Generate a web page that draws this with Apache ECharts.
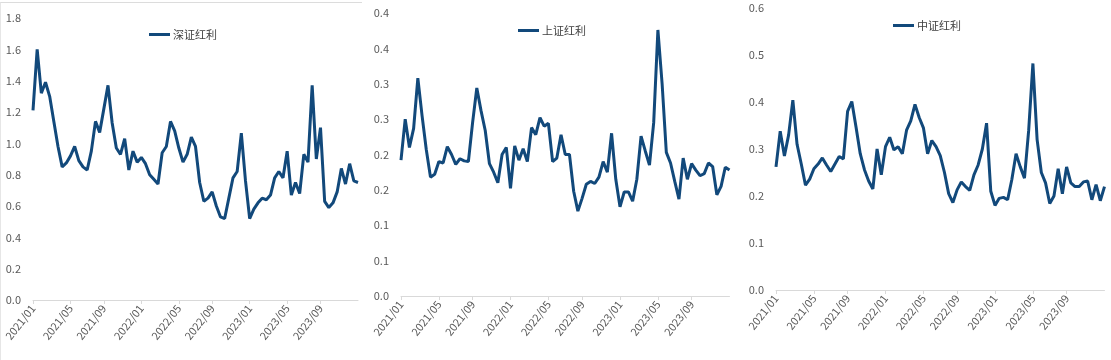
<!DOCTYPE html>
<html>
<head>
<meta charset="utf-8">
<script src="https://cdn.jsdelivr.net/npm/echarts@6/dist/echarts.min.js"></script>
<style>
html,body{margin:0;padding:0;background:#fff;}
#chart{width:1111px;height:360px;}
</style>
</head>
<body>
<div id="chart"></div>
<script>
const dates = ['2021-01-01','2021-01-15','2021-01-29','2021-02-12','2021-02-26','2021-03-12','2021-03-26','2021-04-09','2021-04-23','2021-05-07','2021-05-21','2021-06-04','2021-06-18','2021-07-02','2021-07-16','2021-07-30','2021-08-13','2021-08-27','2021-09-10','2021-09-24','2021-10-08','2021-10-22','2021-11-05','2021-11-19','2021-12-03','2021-12-17','2021-12-31','2022-01-14','2022-01-28','2022-02-11','2022-02-25','2022-03-11','2022-03-25','2022-04-08','2022-04-22','2022-05-06','2022-05-20','2022-06-03','2022-06-17','2022-07-01','2022-07-15','2022-07-29','2022-08-12','2022-08-26','2022-09-09','2022-09-23','2022-10-07','2022-10-21','2022-11-04','2022-11-18','2022-12-02','2022-12-16','2022-12-30','2023-01-13','2023-01-27','2023-02-10','2023-02-24','2023-03-10','2023-03-24','2023-04-07','2023-04-21','2023-05-05','2023-05-19','2023-06-02','2023-06-16','2023-06-30','2023-07-14','2023-07-28','2023-08-11','2023-08-25','2023-09-08','2023-09-22','2023-10-06','2023-10-20','2023-11-03','2023-11-17','2023-12-01','2023-12-15','2023-12-29'];

const szhl = [1.21,1.60,1.32,1.39,1.30,1.14,0.98,0.85,0.875,0.92,0.98,0.89,0.85,0.83,0.95,1.14,1.07,1.22,1.37,1.13,0.97,0.93,1.03,0.83,0.95,0.88,0.91,0.87,0.80,0.77,0.74,0.94,0.98,1.14,1.08,0.97,0.88,0.93,1.04,0.98,0.75,0.63,0.65,0.69,0.60,0.53,0.52,0.65,0.78,0.82,1.065,0.76,0.52,0.58,0.62,0.65,0.64,0.67,0.78,0.82,0.78,0.95,0.67,0.75,0.68,0.93,0.88,1.37,0.90,1.10,0.63,0.59,0.62,0.69,0.84,0.74,0.87,0.76,0.75];

const shhl = [0.192,0.250,0.210,0.237,0.308,0.255,0.207,0.168,0.172,0.190,0.188,0.211,0.200,0.186,0.194,0.191,0.190,0.245,0.294,0.262,0.234,0.187,0.175,0.160,0.200,0.210,0.152,0.212,0.192,0.208,0.190,0.238,0.228,0.252,0.240,0.244,0.190,0.195,0.228,0.200,0.200,0.148,0.120,0.138,0.158,0.162,0.159,0.168,0.190,0.175,0.230,0.165,0.126,0.147,0.147,0.134,0.165,0.226,0.205,0.185,0.245,0.376,0.300,0.203,0.188,0.162,0.137,0.195,0.165,0.187,0.178,0.170,0.173,0.188,0.183,0.143,0.155,0.182,0.178];

const zzhl = [0.262,0.338,0.285,0.330,0.404,0.310,0.268,0.223,0.236,0.258,0.268,0.281,0.266,0.252,0.268,0.284,0.279,0.380,0.401,0.347,0.290,0.256,0.232,0.215,0.300,0.245,0.305,0.325,0.298,0.305,0.290,0.340,0.360,0.395,0.367,0.345,0.290,0.318,0.305,0.286,0.250,0.205,0.186,0.213,0.230,0.220,0.212,0.245,0.266,0.300,0.355,0.210,0.180,0.195,0.197,0.192,0.235,0.290,0.262,0.238,0.340,0.482,0.320,0.250,0.228,0.184,0.200,0.258,0.205,0.262,0.228,0.220,0.220,0.230,0.232,0.192,0.224,0.190,0.220];

const seriesNames = ['深证红利','上证红利','中证红利'];
const xTickLabels = ['2021/01','2021/05','2021/09','2022/01','2022/05','2022/09','2023/01','2023/05','2023/09'];
const yMax = [1.8, 0.4, 0.6];
const yInterval = [0.2, 0.05, 0.1];

// map each tick label to the nearest category
const catTimes = dates.map(d => Date.parse(d + 'T00:00:00Z'));
const tickMap = {};
xTickLabels.forEach(lbl => {
  const [y, m] = lbl.split('/').map(Number);
  const t = Date.UTC(y, m - 1, 1);
  let best = 0, bd = Infinity;
  catTimes.forEach((ct, i) => { const d = Math.abs(ct - t); if (d < bd) { bd = d; best = i; } });
  tickMap[best] = lbl;
});
const isTick = (idx) => tickMap[idx] !== undefined;

const textColor = '#595959';
const lineColor = '#12497b';
const font = "'Noto Sans CJK SC', 'Noto Sans', sans-serif";

const grids = [
  {left: 33, top: 18, width: 325, height: 282},
  {left: 401, top: 13, width: 328.5, height: 283},
  {left: 776, top: 8, width: 328.5, height: 282}
];
const legendPos = [{left: 149, top: 29}, {left: 518, top: 25}, {left: 893, top: 20}];
const dataSets = [szhl, shhl, zzhl];

const option = {
  backgroundColor: '#ffffff',
  animation: false,
  textStyle: {fontFamily: font},
  graphic: [
    {type: 'line', shape: {x1: 0, y1: 2.5, x2: 362, y2: 2.5}, style: {stroke: '#dcdcdc', lineWidth: 1}, silent: true},
    {type: 'line', shape: {x1: 0.5, y1: 2.5, x2: 0.5, y2: 360}, style: {stroke: '#e6e6e6', lineWidth: 1}, silent: true}
  ],
  grid: grids,
  legend: seriesNames.map((n, i) => ({
    data: [n],
    left: legendPos[i].left,
    top: legendPos[i].top,
    icon: 'rect',
    itemWidth: 21,
    itemHeight: 3,
    itemGap: 4,
    padding: 0,
    textStyle: {color: '#404040', fontSize: 11, fontFamily: font, padding: [0, 0, 0, -2]}
  })),
  xAxis: grids.map((g, i) => ({
    type: 'category',
    gridIndex: i,
    data: dates,
    boundaryGap: false,
    axisLine: {show: true, lineStyle: {color: '#d9d9d9', width: 1}},
    axisTick: {show: true, length: 4, interval: (idx) => isTick(idx), lineStyle: {color: '#d9d9d9'}},
    axisLabel: {
      show: true,
      rotate: 52,
      interval: (idx) => isTick(idx),
      formatter: (v, idx) => tickMap[idx] || '',
      color: textColor,
      fontSize: 11,
      margin: 6,
      fontFamily: font
    },
    splitLine: {show: false}
  })),
  yAxis: grids.map((g, i) => ({
    type: 'value',
    gridIndex: i,
    min: 0,
    max: yMax[i],
    interval: yInterval[i],
    axisLine: {show: false},
    axisTick: {show: false},
    splitLine: {show: false},
    axisLabel: {
      color: textColor,
      fontSize: 11,
      margin: 12,
      fontFamily: font,
      formatter: (v) => (Math.round(v * 10 + 1e-9) / 10).toFixed(1)
    }
  })),
  series: seriesNames.map((n, i) => ({
    name: n,
    type: 'line',
    xAxisIndex: i,
    yAxisIndex: i,
    data: dataSets[i],
    symbol: 'none',
    showSymbol: false,
    color: lineColor,
    lineStyle: {color: lineColor, width: 3},
    emphasis: {disabled: true}
  }))
};

const chart = echarts.init(document.getElementById('chart'), null, {renderer: 'canvas'});
chart.setOption(option);
</script>
</body>
</html>
